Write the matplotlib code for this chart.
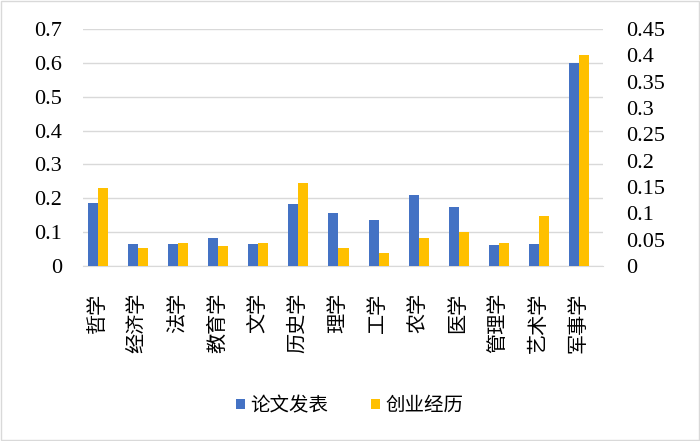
import numpy as np
import matplotlib.pyplot as plt
from matplotlib.patches import Rectangle

plt.rcParams['font.family'] = ['Liberation Serif', 'Noto Sans CJK SC']

categories = ['哲学', '经济学', '法学', '教育学', '文学', '历史学', '理学',
              '工学', '农学', '医学', '管理学', '艺术学', '军事学']
papers = [0.185, 0.066, 0.066, 0.082, 0.065, 0.183, 0.156,
          0.135, 0.211, 0.173, 0.063, 0.065, 0.600]
startup = [0.148, 0.035, 0.043, 0.038, 0.043, 0.158, 0.034,
           0.024, 0.054, 0.065, 0.043, 0.094, 0.400]

blue = '#4472C4'
yellow = '#FFC000'
grid = '#D9D9D9'

fig = plt.figure(figsize=(7, 4.41), dpi=100)
ax = fig.add_axes([83 / 700, 175 / 441, 520 / 700, 237 / 441])
ax2 = ax.twinx()

x = np.arange(len(categories))
w = 0.25
b1 = ax.bar(x - w / 2, papers, w, color=blue, label='论文发表', zorder=3)
b2 = ax2.bar(x + w / 2, startup, w, color=yellow, label='创业经历', zorder=3)

ax.set_ylim(0, 0.7)
ax.set_yticks(np.arange(0, 0.71, 0.1))
ax.set_yticklabels(['0'] + ['%.1f' % v for v in np.arange(0.1, 0.71, 0.1)])
ax2.set_ylim(0, 0.45)
ax2.set_yticks(np.arange(0, 0.451, 0.05))
ax2.set_yticklabels(['0'] + ['%g' % round(v, 2) for v in np.arange(0.05, 0.451, 0.05)])
ax.set_xlim(-0.375, 12.6)

ax.set_xticks(x)
ax.set_xticklabels(categories, rotation=90, fontsize=14.5)
ax.yaxis.grid(True, color=grid, lw=1, zorder=0)
ax.set_axisbelow(True)

for a in (ax, ax2):
    for s in a.spines.values():
        s.set_visible(False)
    a.tick_params(length=0)
ax.spines['bottom'].set_visible(True)
ax.spines['bottom'].set_color(grid)
ax.tick_params(axis='y', pad=15, labelsize=16)
ax2.tick_params(axis='y', pad=17, labelsize=16)
ax.tick_params(axis='x', pad=19)

fig.legend([b1, b2], ['论文发表', '创业经历'], loc='center', ncol=2,
           bbox_to_anchor=(0.5, 35 / 441), frameon=False, fontsize=14,
           handlelength=0.45, handleheight=0.45, handletextpad=0.3, columnspacing=2.2)

fig.patches.append(Rectangle((0.002, 0.003), 0.996, 0.994, transform=fig.transFigure,
                             fill=False, edgecolor=grid, lw=1))

fig.savefig('out.png', dpi=100)
